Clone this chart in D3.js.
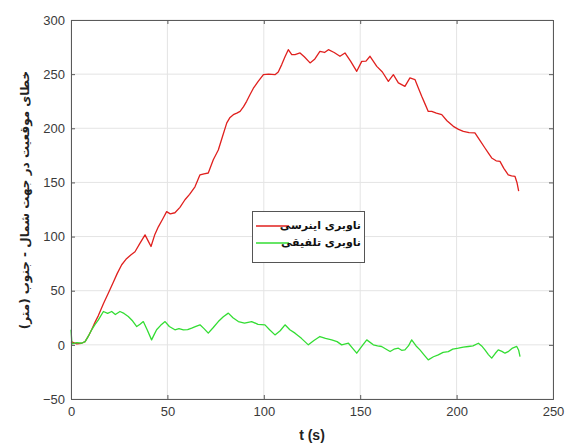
<!DOCTYPE html>
<html><head><meta charset="utf-8">
<script src="https://cdn.jsdelivr.net/npm/d3@7"></script>
<style>body{margin:0;background:#fff}svg{display:block}</style>
</head><body><svg id="c" width="574" height="448"></svg>
<script>
const xTicks=[0,50,100,150,200,250];
const yTicks=[-50,0,50,100,150,200,250,300];
const xLabel="t (s)";
const yLabel="خطای موقعیت در جهت شمال - جنوب (متر)";
const seriesNames=["ناوبری اینرسی","ناوبری تلفیقی"];
const redT=[0,3,5.5,7.3,9,10.7,12.5,14.2,16.8,19.4,22,24,26.3,28.5,31,33.2,35.5,38.4,40,41.5,43.5,45.3,47.5,49.6,51.5,53.9,56.5,59.1,61.5,64.3,66.9,69,71.2,73.8,76.4,78.5,80.8,82.5,84.2,86,87.7,89.5,91.1,92.8,94.6,97,99.8,102.5,105.8,107.5,109.3,111,112.7,114.5,116.2,118.8,121,124,126.5,129.1,131.5,133.5,136.5,139.5,142.1,145,148.2,150.8,153,155.1,158.6,161.5,164.6,167.2,169.8,173.2,175.8,178.4,180,181.9,183.5,185.3,187.1,189.5,192.3,195,198.3,201,203.5,206.5,209.5,212,214.7,216.5,218.2,220.5,222.5,224.5,226.8,228.5,230.3,231.3,232.2];
const redV=[3,1,1.5,3,8,14,21,27,38,47.8,58,66,74,79,83,86,93,101.6,96,90.8,102,109,116,123,121,122,127,134,139,146,157,158,158.7,171,180,192,205,210,212.6,214,215.6,220,224.9,231,237,243,249.5,250,249.5,252,258.8,266,272.6,268,268,269.6,266,260.4,264,271,270,272.6,270,266.5,269.6,262,252.6,261.8,262,266.5,257.2,252,243.3,249.5,241.9,238.7,246.5,245,238,229.5,223,215.6,215.6,214,212.6,207,201.8,199,197.1,196,195.7,189,181.8,177,172.6,170,169.4,163,157,156,155.5,150,142];
const greenT=[0,0.5,3,5.5,7.3,9,10.7,12.5,14.2,16.8,19,21.1,23,25.4,27.5,29.7,32,34.1,35.8,37.5,39.5,41.8,43,44.4,46.5,48.8,51,53.9,56,58.3,60.5,62.6,64.8,66.9,69,71.2,73.8,76.4,79,81.6,84,86.8,90,93.7,97,100.6,103,105.8,108.5,111,113.5,116.2,119.5,123.1,126,129.1,132,135.2,138,140.4,143.9,146,148.2,151,153.4,156.8,159,161.1,163.5,165.5,167.5,169.8,171.5,173.2,175,176.7,179,181,183,185.3,188,190.5,193,195.7,198,200.9,203.5,206.1,208.5,211.3,213,214.7,216.5,218.2,220,221.6,223.5,225.1,227,229,231.2,232.2,232.9];
const greenV=[14,1,2,1.5,3,8,13.9,19,23,30.8,29,30.8,28,30.8,29,26.2,22,16.9,19,21.5,14,4.6,9,13.9,18,21.5,17,13.9,15,13.9,14,15.4,17,18.5,15,10.8,16,21.5,26,29.3,25,21.5,20,21.5,19,18.5,14,9.2,13,18.5,14,10.8,6,0,4,7.7,6,4.6,3,0,1.5,-3,-7.7,-1,4.6,0,-1,-1.5,-4,-6.2,-4,-3.1,-5,-4.6,-1,4.6,-1,-4.6,-9,-13.9,-11,-9.2,-7,-6.2,-4,-3.1,-2,-1.5,-1,1.5,-1,-4.6,-9,-12.3,-8,-4.6,-6,-7.7,-6,-3,-1.5,-5,-10.8];

const svg=d3.select("#c");
const L=71,R=553,T=20,B=399;
const x=d3.scaleLinear().domain([0,250]).range([L,R]);
const y=d3.scaleLinear().domain([-50,300]).range([B,T]);
const font="'Liberation Sans', Arial, sans-serif";
const tc="#3a3a3a";

// grid
const g=svg.append("g");
g.selectAll(".gx").data(xTicks).join("line").attr("x1",d=>x(d)).attr("x2",d=>x(d)).attr("y1",T).attr("y2",B).attr("stroke","#e4e4e4").attr("stroke-width",1);
g.selectAll(".gy").data(yTicks).join("line").attr("y1",d=>y(d)).attr("y2",d=>y(d)).attr("x1",L).attr("x2",R).attr("stroke","#e4e4e4").attr("stroke-width",1);

// lines
const line=d3.line().x(d=>x(d[0])).y(d=>y(d[1]));
svg.append("path").datum(redT.map((t,i)=>[t,redV[i]])).attr("d",line).attr("fill","none").attr("stroke","#e0201e").attr("stroke-width",1.3).attr("stroke-linejoin","round");
svg.append("path").datum(greenT.map((t,i)=>[t,greenV[i]])).attr("d",line).attr("fill","none").attr("stroke","#33dd33").attr("stroke-width",1.3).attr("stroke-linejoin","round");

// axes
const xa=svg.append("g").attr("transform",`translate(0,${B})`).call(d3.axisBottom(x).tickValues(xTicks).tickSize(-4).tickPadding(8));
const xt=svg.append("g").attr("transform",`translate(0,${T})`).call(d3.axisTop(x).tickValues(xTicks).tickSize(-4).tickFormat(""));
const ya=svg.append("g").attr("transform",`translate(${L},0)`).call(d3.axisLeft(y).tickValues(yTicks).tickSize(-4).tickPadding(6));
const yr=svg.append("g").attr("transform",`translate(${R},0)`).call(d3.axisRight(y).tickValues(yTicks).tickSize(-4).tickFormat(""));
[xa,xt,ya,yr].forEach(a=>{a.select(".domain").attr("stroke","#5a5a5a");a.selectAll(".tick line").attr("stroke","#5a5a5a");a.selectAll("text").attr("fill",tc).style("font-family",font).style("font-size","13px");});

// labels
svg.append("text").attr("x",(L+R)/2).attr("y",440).attr("text-anchor","middle").style("font-family",font).style("font-size","14px").style("font-weight","bold").attr("fill","#222").text(xLabel);
svg.append("text").attr("transform","translate(25,200) rotate(-90)").attr("text-anchor","middle").attr("dominant-baseline","middle").style("font-family","'DejaVu Sans', 'Noto Sans', sans-serif").style("font-size","12px").style("font-weight","bold").attr("fill","#222").attr("direction","rtl").text(yLabel);

// legend
const lg=svg.append("g");
lg.append("rect").attr("x",252.5).attr("y",211.5).attr("width",112).attr("height",51).attr("fill","#fff").attr("stroke","#555").attr("stroke-width",1);
const colors=["#e0201e","#33dd33"];
seriesNames.forEach((n,i)=>{
  const yy=226+i*17;
  lg.append("line").attr("x1",256).attr("x2",289).attr("y1",yy).attr("y2",yy).attr("stroke",colors[i]).attr("stroke-width",1.3);
  lg.append("text").attr("x",361).attr("y",yy).attr("text-anchor","start").attr("direction","rtl").attr("dominant-baseline","middle").style("font-family","'DejaVu Sans', 'Noto Sans', sans-serif").style("font-size","11px").style("font-weight","bold").attr("fill","#111").text(n);
});
</script></body></html>
